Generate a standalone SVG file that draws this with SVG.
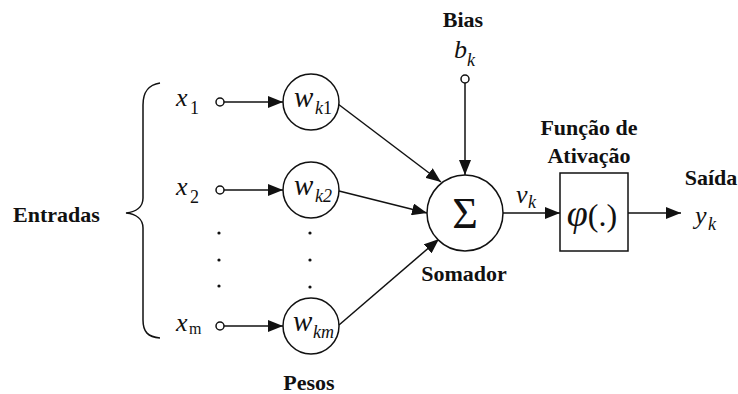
<svg xmlns="http://www.w3.org/2000/svg" width="738" height="394" viewBox="0 0 738 394">
<style>
.ln{stroke:#111;stroke-width:1.5;fill:none}
.nd{stroke:#111;stroke-width:1.5;fill:#fff}
text{font-family:'Liberation Serif','Times New Roman','DejaVu Serif',serif;fill:#111}
.lb{font-weight:bold;font-size:22px}
.mi{font-style:italic;font-size:26px}
.wt{font-size:29px}
.sb{font-size:18px}
.rm{font-style:normal}
.dot{fill:#111}
</style>
<defs>
<marker id="ah" markerUnits="userSpaceOnUse" markerWidth="16" markerHeight="12" refX="15" refY="6" orient="auto">
<path d="M0,0 L15,6 L0,12 Z" fill="#111"/>
</marker>
</defs>
<rect width="738" height="394" fill="#fff"/>
<g id="brace">
<path class="ln" d="M160,83 C148,85 143,92 143,105 L143,198 C143,207 136,212 126,213 C136,214 143,219 143,228 L143,320 C143,332 148,337 160,338"/>
<text class="lb" x="13" y="222">Entradas</text>
</g>
<g id="connectors">
<line class="ln" x1="224" y1="102" x2="283" y2="102" marker-end="url(#ah)"/>
<line class="ln" x1="224" y1="190" x2="283" y2="190" marker-end="url(#ah)"/>
<line class="ln" x1="224" y1="326" x2="283" y2="326" marker-end="url(#ah)"/>
<line class="ln" x1="338" y1="104" x2="441" y2="182" marker-end="url(#ah)"/>
<line class="ln" x1="339" y1="191" x2="427" y2="213" marker-end="url(#ah)"/>
<line class="ln" x1="339" y1="325" x2="439" y2="239" marker-end="url(#ah)"/>
<line class="ln" x1="465" y1="83" x2="465" y2="175" marker-end="url(#ah)"/>
<line class="ln" x1="503" y1="213" x2="560" y2="213" marker-end="url(#ah)"/>
<line class="ln" x1="628" y1="213" x2="681" y2="213" marker-end="url(#ah)"/>
</g>
<g id="x1">
<circle class="nd" cx="220" cy="102" r="4"/>
<text class="mi" x="176" y="106">x<tspan class="sb rm" x="190" y="114">1</tspan></text>
</g>
<g id="x2">
<circle class="nd" cx="220" cy="190" r="4"/>
<text class="mi" x="176" y="195">x<tspan class="sb rm" x="190" y="203">2</tspan></text>
</g>
<g id="xm">
<circle class="nd" cx="220" cy="326" r="4"/>
<text class="mi" x="176" y="331">x<tspan class="rm" font-size="16" x="189" y="334">m</tspan></text>
</g>
<g id="input-dots">
<circle class="dot" cx="219" cy="233" r="1.6"/>
<circle class="dot" cx="219" cy="260" r="1.6"/>
<circle class="dot" cx="219" cy="286" r="1.6"/>
</g>
<g id="wk1">
<circle class="nd" cx="311" cy="102" r="28"/>
<text class="mi wt" x="294" y="107">w<tspan class="sb" x="315" y="114">k</tspan><tspan class="sb rm">1</tspan></text>
</g>
<g id="wk2">
<circle class="nd" cx="311" cy="190" r="28"/>
<text class="mi wt" x="294" y="195">w<tspan class="sb" x="315" y="202">k2</tspan></text>
</g>
<g id="wkm">
<circle class="nd" cx="311" cy="326" r="28"/>
<text class="mi wt" x="293" y="331">w<tspan class="sb" x="313" y="338">km</tspan></text>
</g>
<g id="weight-dots">
<circle class="dot" cx="310" cy="233" r="1.6"/>
<circle class="dot" cx="310" cy="260" r="1.6"/>
<circle class="dot" cx="310" cy="287" r="1.6"/>
</g>
<text class="lb" x="309" y="390" text-anchor="middle">Pesos</text>
<g id="bias">
<text class="lb" x="463" y="27" text-anchor="middle">Bias</text>
<circle class="nd" cx="465" cy="79" r="4"/>
<text class="mi" x="454" y="58">b<tspan class="sb" x="467" y="66">k</tspan></text>
</g>
<g id="somador">
<circle class="nd" cx="465" cy="213" r="38"/>
<text x="465" y="228" text-anchor="middle" font-size="44">Σ</text>
<text class="lb" x="464" y="281" text-anchor="middle">Somador</text>
</g>
<text class="mi" x="516" y="203">v<tspan class="sb" x="528" y="208">k</tspan></text>
<g id="ativacao">
<rect class="nd" x="560" y="173" width="68" height="78"/>
<text class="mi" x="592" y="226" text-anchor="middle"><tspan font-size="38">φ</tspan><tspan class="rm" font-size="32">(.)</tspan></text>
<text class="lb" x="589" y="135" text-anchor="middle">Função de</text>
<text class="lb" x="589" y="163" text-anchor="middle">Ativação</text>
</g>
<g id="saida">
<text class="lb" x="711" y="185" text-anchor="middle">Saída</text>
<text class="mi" x="695" y="224">y<tspan class="sb" x="708" y="230">k</tspan></text>
</g>
</svg>
